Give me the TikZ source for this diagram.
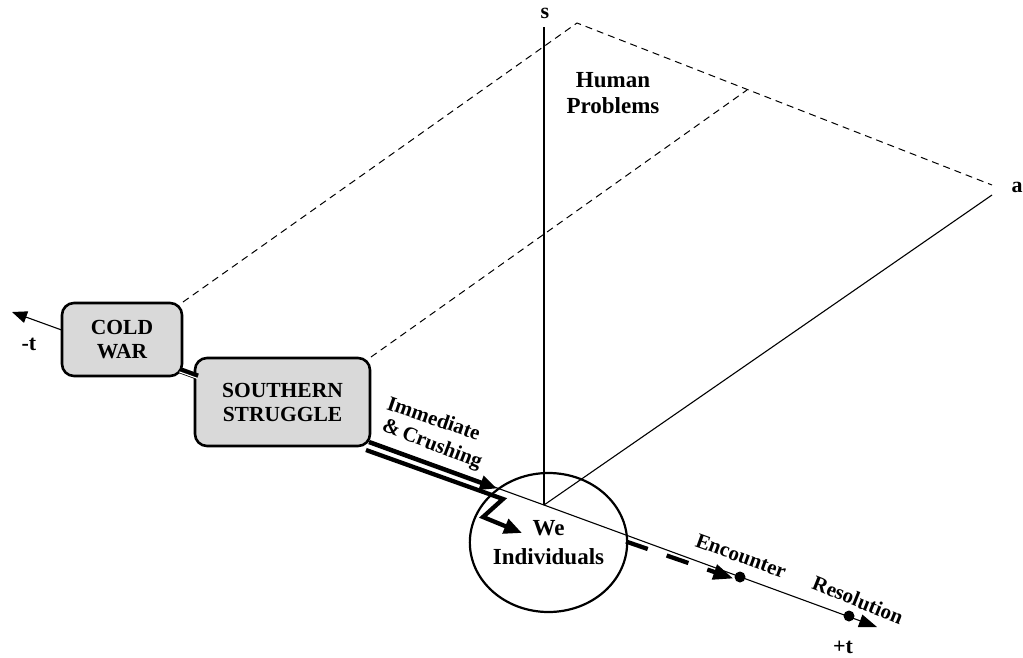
\documentclass[tikz,border=0pt]{standalone}
\usepackage{fontspec}
\setmainfont{Liberation Serif}
\usetikzlibrary{arrows.meta,shapes.geometric,calc}
\definecolor{boxgray}{RGB}{217,217,217}
\begin{document}
\begin{tikzpicture}[x=1pt,y=-1pt,
  box/.style={draw, line width=2.6pt, rounded corners=12pt, fill=boxgray, align=center,
    font=\fontsize{21.5}{24}\selectfont\bfseries, inner sep=0pt},
  axisline/.style={line width=1.1pt},
  guide/.style={line width=1pt, dash pattern=on 7pt off 5pt},
  lbl/.style={font=\fontsize{22}{24}\selectfont\bfseries, inner sep=0pt},
  tlbl/.style={font=\fontsize{21}{22}\selectfont\bfseries, inner sep=0pt},
  dotnode/.style={circle, fill=black, inner sep=0pt, minimum size=11pt},
  thickarrow/.style={line width=4.5pt, -{Triangle[length=17pt,width=14pt]}},
]
\useasboundingbox (0,0) rectangle (1023,657);
% axis points
\coordinate (O) at (544,505);
\coordinate (stop) at (544,27);
\coordinate (aend) at (992,195);
\coordinate (tminus) at (12,312);
\coordinate (tplus) at (877,627);
% guide points
\coordinate (p1) at (577,23);
\coordinate (p2) at (747,90);
\coordinate (p3) at (992,185);
\path (122,339.5) coordinate (cwc) (282.5,402) coordinate (ssc);
% dashed guides
\draw[guide] (183,302) -- (p1) -- (p3);
\draw[guide] (371,357) -- (p2);
% axes
\draw[axisline] (O) -- (stop);
\draw[axisline] (O) -- (aend);
\draw[axisline, -{Triangle[length=15pt,width=12pt]}] (O) -- (tminus);
\draw[axisline, -{Triangle[length=18pt,width=13pt]}] (O) -- (tplus);
% boxes
\node[box, minimum width=120pt, minimum height=73pt] (cw) at (cwc) {COLD\\WAR};
\node[box, minimum width=175pt, minimum height=88pt] (ss) at (ssc) {SOUTHERN\\STRUGGLE};
% circle
\node[draw, ellipse, line width=2.2pt, minimum width=155pt, minimum height=139pt,
  align=center, font=\fontsize{23}{29}\selectfont\bfseries, inner sep=0pt] (we) at (548.5,542.5) {We\\Individuals};
% connector between boxes
\coordinate (c1) at (180,369.5);
\coordinate (c2) at (198,376);
\draw[line width=5pt] (c1) -- (c2);
\draw[white, line width=1.1pt] ($(c1)+(-0.6,2.4)$) -- ($(c2)+(-0.6,2.4)$);
% immediate & crushing connectors
\coordinate (i1) at (369,442);
\coordinate (i2) at (497,488.5);
\coordinate (j1) at (366,450);
\coordinate (j2) at (503,499);
\coordinate (j3) at (483,517);
\coordinate (j4) at (522,533);
\draw[thickarrow] (i1) -- (i2);
\draw[line width=4.3pt, miter limit=10, -{Triangle[length=18pt,width=15pt]}] (j1) -- (j2) -- (j3) -- (j4);
% dashed thick segment to Encounter
\node[dotnode] (enc) at (740,577) {};
\node[dotnode] (res) at (849,616) {};
\coordinate (d1) at (626,541.5);
\draw[line width=4.3pt, dash pattern=on 23pt off 20pt, -{Triangle[length=20pt,width=15pt]}] (d1) -- ($(enc.west)+(-1,1.5)$);
% labels
\node[lbl] (slbl) at (545,13) {s};
\node[lbl] (albl) at (1017,187) {a};
\node[lbl] (tmlbl) at (29,344) {-t};
\node[lbl] (tplbl) at (843,647) {+t};
\node[font=\fontsize{23}{26}\selectfont\bfseries, align=center, inner sep=0pt] (hp) at (613,93) {Human\\Problems};
\node[tlbl, rotate=-19] (imm) at (434,418) {Immediate};
\node[tlbl, rotate=-21] (cru) at (432,445) {\&\,Crushing};
\node[tlbl, rotate=-20] (enclbl) at (741,556) {Encounter};
\node[tlbl, rotate=-22] (reslbl) at (858,600) {Resolution};
\end{tikzpicture}
\end{document}
